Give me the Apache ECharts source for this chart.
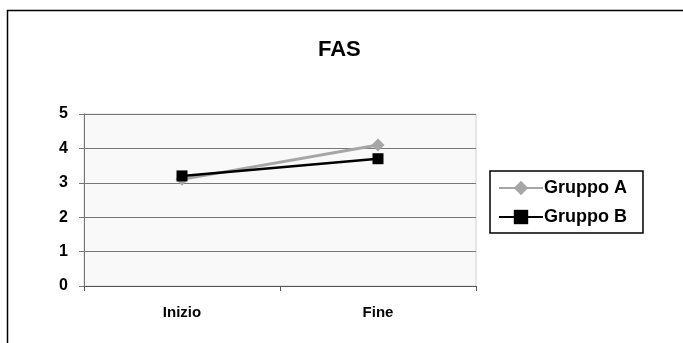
<!DOCTYPE html>
<html><head><meta charset="utf-8">
<script src="https://cdn.jsdelivr.net/npm/echarts@6/dist/echarts.min.js"></script>
<style>html,body{margin:0;padding:0;background:#fff}#c{width:683px;height:343px}</style>
</head><body><div id="c"></div>
<script>
const categories = ['Inizio', 'Fine'];
const gruppoA = [3.1, 4.1];
const gruppoB = [3.2, 3.7];
const yTicks = [0, 1, 2, 3, 4, 5];

const chart = echarts.init(document.getElementById('c'));
const font = '"Liberation Sans", Arial, sans-serif';
chart.setOption({
  animation: false,
  backgroundColor: '#fff',
  title: {
    text: 'FAS', left: 313, top: 34,
    textStyle: {fontFamily: font, fontWeight: 'bold', fontSize: 22, color: '#000'}
  },
  graphic: [{
    type: 'rect', shape: {x: 7.5, y: 10.5, width: 720, height: 400},
    style: {fill: 'none', stroke: '#000', lineWidth: 1.5}, silent: true
  }],
  legend: {
    orient: 'vertical', left: 490, top: 171,
    padding: [8, 16, 7, 8], itemGap: 11,
    borderColor: '#000', borderWidth: 1.5,
    itemWidth: 44, itemHeight: 18,
    textStyle: {fontFamily: font, fontWeight: 'bold', fontSize: 18, color: '#000', padding: [0, 0, 0, -4]},
    data: ['Gruppo A', 'Gruppo B']
  },
  grid: {
    left: 84, right: 207, top: 114, bottom: 57,
    show: true, backgroundColor: '#f9f9f9', borderColor: '#d0d0d0', borderWidth: 1
  },
  xAxis: {
    type: 'category', data: categories, boundaryGap: true,
    axisLine: {lineStyle: {color: '#555', width: 1}},
    axisTick: {show: true, length: 5, lineStyle: {color: '#555'}},
    axisLabel: {fontFamily: font, fontWeight: 'bold', fontSize: 15, color: '#000', margin: 19}
  },
  yAxis: {
    type: 'value', min: yTicks[0], max: yTicks[yTicks.length - 1], interval: 1,
    axisLine: {show: true, lineStyle: {color: '#777', width: 1}},
    axisTick: {show: true, length: 5, lineStyle: {color: '#777'}},
    splitLine: {show: true, lineStyle: {color: '#777', width: 1.2}},
    axisLabel: {fontFamily: font, fontWeight: 'bold', fontSize: 16, color: '#000', margin: 16}
  },
  series: [
    {
      name: 'Gruppo A', type: 'line', data: gruppoA,
      symbol: 'diamond', symbolSize: 13,
      lineStyle: {color: '#a6a6a6', width: 3},
      itemStyle: {color: '#a6a6a6'}
    },
    {
      name: 'Gruppo B', type: 'line', data: gruppoB,
      symbol: 'rect', symbolSize: 11,
      lineStyle: {color: '#000', width: 2.5},
      itemStyle: {color: '#000'}
    }
  ]
});
</script></body></html>
